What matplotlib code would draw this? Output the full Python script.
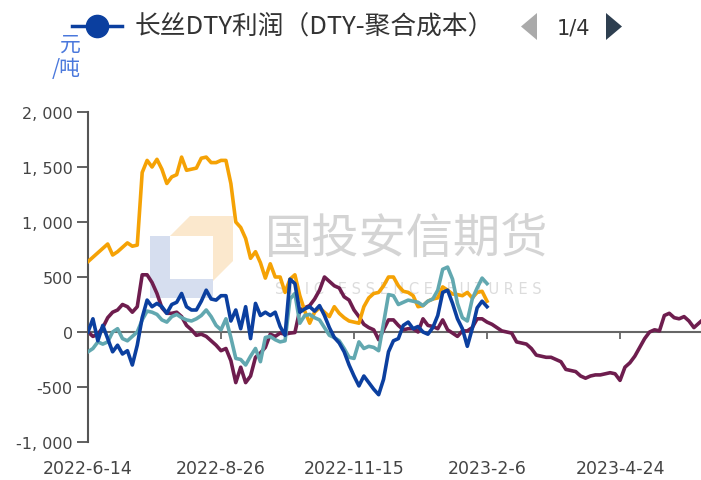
import matplotlib
matplotlib.use("Agg")
import matplotlib.pyplot as plt
from matplotlib.patches import Polygon
from matplotlib.ticker import FuncFormatter
import numpy as np

# trading-day index (every 2nd day sampled)
idx_short = list(range(0, 163, 2))
idx_long = list(range(0, 251, 2))

orange = [640, 680, 720, 760, 800, 700, 730, 770, 810, 780, 790, 1450, 1560, 1500, 1570, 1480,
          1350, 1410, 1430, 1590, 1470, 1480, 1490, 1580, 1590, 1540, 1540, 1560, 1560, 1350, 1000,
          950, 850, 670, 730, 630, 490, 620, 500, 500, 360, 480, 520, 330, 190, 80, 180, 220, 180,
          140, 230, 170, 130, 100, 90, 80, 230, 310, 350, 360, 420, 500, 500, 420, 370, 360, 330,
          230, 240, 280, 300, 310, 410, 380, 345, 340, 330, 360, 310, 360, 370, 280]

teal = [-180, -150, -90, -110, -90, 0, 30, -60, -80, -40, 0, 110, 190, 180, 160, 110, 90, 140,
        160, 130, 110, 100, 120, 150, 200, 140, 60, 20, 120, -50, -240, -250, -300, -220, -150,
        -270, -50, -40, -70, -90, -80, 300, 350, 80, 150, 160, 130, 110, 40, -30, -50, -80, -150,
        -230, -240, -90, -150, -130, -140, -170, 80, 340, 330, 250, 270, 290, 280, 270, 240, 280,
        300, 380, 570, 590, 480, 260, 130, 100, 300, 400, 490, 440]

blue = [0, 120, -80, 60, -60, -180, -120, -200, -170, -300, -120, 130, 290, 230, 260, 230, 170,
        250, 270, 350, 230, 200, 200, 280, 380, 300, 290, 330, 330, 100, 200, 30, 230, -60, 260,
        150, 180, 150, 180, 50, -30, 480, 440, 180, 210, 230, 190, 240, 150, 40, -50, -100, -180,
        -300, -400, -490, -400, -460, -520, -570, -430, -180, -80, -60, 60, 90, 30, 50, 0, -20,
        40, 150, 360, 380, 260, 120, 30, -130, 30, 220, 280, 230]

purple = [0, -40, -20, 40, 130, 180, 200, 250, 230, 180, 230, 520, 520, 450, 350, 220, 170, 170,
          180, 140, 60, 20, -30, -20, -40, -80, -120, -170, -150, -260, -460, -320, -460, -400,
          -230, -190, -140, -20, -40, -10, -20, -10, -5, 200, 220, 240, 300, 380, 500, 460, 420,
          400, 320, 290, 200, 140, 70, 40, 20, -70, 20, 110, 110, 60, 20, 30, 30, 0, 120, 60, 50,
          30, 110, 20, -10, -40, 10, 10, 40, 120, 120, 90, 70, 40, 10, 0, -10, -90, -100, -110,
          -150, -210, -220, -230, -230, -250, -270, -340, -350, -360, -400, -420, -400, -390, -390,
          -380, -370, -380, -440, -320, -280, -220, -140, -60, 0, 20, 10, 150, 170, 130, 120, 140,
          100, 40, 80, 120]

tick_pos = [0, 54, 108, 162, 216]
tick_labels = ["2022-6-14", "2022-8-26", "2022-11-15", "2023-2-6", "2023-4-24"]
y_ticks = [-1000, -500, 0, 500, 1000, 1500, 2000]
legend_label = "长丝DTY利润（DTY-聚合成本）"

W, H = 701, 481
fig = plt.figure(figsize=(W / 100, H / 100), dpi=100)
ax = fig.add_axes([88 / W, 1 - 443 / H, (705 - 88) / W, 330 / H])
ax.set_facecolor("none")


def fx(px):
    return px / W


def fy(py):
    return 1 - py / H


# watermark / logo
ax.add_patch(Polygon([(fx(150), fy(237)), (fx(170), fy(237)), (fx(170), fy(280)), (fx(213), fy(280)),
                      (fx(213), fy(299)), (fx(150), fy(299))],
                     closed=True, transform=fig.transFigure, facecolor="#d6deef", edgecolor="none",
                     clip_on=False, zorder=0))
ax.add_patch(Polygon([(fx(190), fy(217)), (fx(233), fy(217)), (fx(233), fy(262)), (fx(213), fy(282)),
                      (fx(213), fy(237)), (fx(170), fy(237))],
                     closed=True, transform=fig.transFigure, facecolor="#fbe8cd", edgecolor="none",
                     clip_on=False, zorder=0))
ax.text(fx(407), fy(240), "国投安信期货", transform=fig.transFigure, ha="center", va="center",
        fontsize=34, color="#d4d4d4", family=["Noto Sans CJK SC"], zorder=0)
ax.text(fx(408), fy(290), "S D I C   E S S E N C E   F U T U R E S", transform=fig.transFigure,
        ha="center", va="center", fontsize=10.5, color="#dcdcdc", zorder=0)

lw = 2.6
ax.plot(idx_long, purple, color="#6e1d4e", lw=lw, zorder=2, solid_joinstyle="round")
ax.plot(idx_short, orange, color="#f5a205", lw=lw, zorder=3, solid_joinstyle="round")
ax.plot(idx_short, teal, color="#62a8b0", lw=lw, zorder=4, solid_joinstyle="round")
ax.plot(idx_short, blue, color="#0b3f9f", lw=lw, zorder=5, solid_joinstyle="round")

ax.set_xlim(0, 250.5)
ax.set_ylim(-1000, 2000)
ax.set_yticks(y_ticks)
ax.yaxis.set_major_formatter(FuncFormatter(lambda v, p: f"{v:,.0f}".replace(",", ", ")))
ax.tick_params(axis="y", length=8, width=1.3, color="#555555", labelsize=11.5, labelcolor="#444444", pad=3)

for s in ["top", "right"]:
    ax.spines[s].set_visible(False)
ax.spines["left"].set_color("#555555")
ax.spines["left"].set_linewidth(1.5)
ax.spines["bottom"].set_position(("data", 0))
ax.spines["bottom"].set_color("#666666")
ax.spines["bottom"].set_linewidth(1.5)
ax.spines["bottom"].set_zorder(1)
ax.set_xticks(tick_pos)
ax.tick_params(axis="x", length=5, width=1.3, color="#666666", labelbottom=False)

sec = ax.secondary_xaxis(0)
sec.set_xticks(tick_pos, tick_labels)
sec.tick_params(length=0, pad=12, labelsize=12.5, labelcolor="#444444")
sec.spines["bottom"].set_visible(False)

# unit label
fig.text(fx(81), fy(45), "元", ha="right", va="center", fontsize=15, color="#4a78dc",
         family=["Noto Sans CJK SC"])
fig.text(fx(81), fy(69), "/吨", ha="right", va="center", fontsize=15, color="#4a78dc",
         family=["Noto Sans CJK SC", "DejaVu Sans"])

# legend
fig.add_artist(plt.Line2D([fx(72), fx(122)], [fy(27), fy(27)], color="#0b3f9f", lw=2.5,
                          transform=fig.transFigure))
fig.add_artist(plt.Line2D([fx(97)], [fy(27)], marker="o", markersize=16, color="#0b3f9f",
                          transform=fig.transFigure))
fig.text(fx(135), fy(27), legend_label, ha="left", va="center", fontsize=18.5, color="#333333",
         family=["Noto Sans CJK SC"])
fig.add_artist(Polygon([(fx(537), fy(14)), (fx(537), fy(41)), (fx(521), fy(27.5))], closed=True,
                       transform=fig.transFigure, facecolor="#aaaaaa", edgecolor="none"))
fig.text(fx(573), fy(28), "1/4", ha="center", va="center", fontsize=15, color="#333333")
fig.add_artist(Polygon([(fx(606), fy(14)), (fx(606), fy(41)), (fx(622), fy(27.5))], closed=True,
                       transform=fig.transFigure, facecolor="#2e3f50", edgecolor="none"))

fig.savefig("out.png", dpi=100)
